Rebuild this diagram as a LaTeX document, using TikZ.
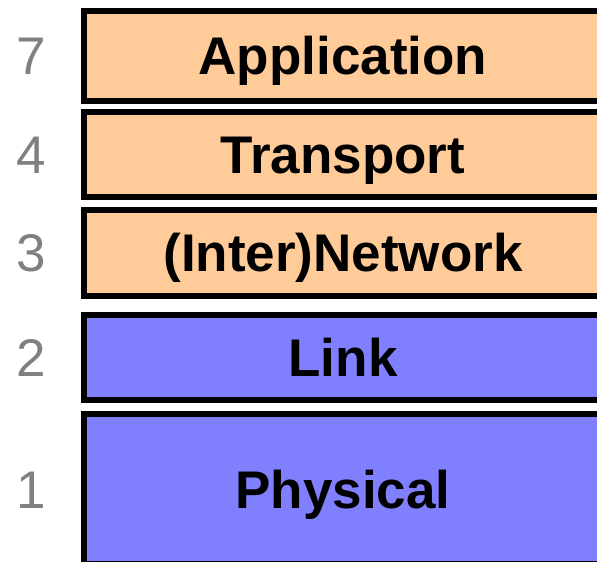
\documentclass[tikz,border=0pt]{standalone}
\usepackage{fontspec}
\setmainfont{Liberation Sans}
\begin{document}
\begin{tikzpicture}[x=1pt,y=-1pt,
  layerbox/.style={draw=black, line width=6pt, rectangle, minimum width=518pt, inner sep=0pt,
    font=\fontsize{53}{60}\selectfont\bfseries, text height=38pt, text depth=0pt, anchor=center},
  upper/.style={layerbox, fill={rgb,255:red,255;green,204;blue,153}},
  lower/.style={layerbox, fill={rgb,255:red,128;green,128;blue,255}},
  num/.style={font=\fontsize{53}{60}\selectfont, text={rgb,255:red,128;green,128;blue,128},
    inner sep=0pt, text height=38pt, text depth=0pt, anchor=center}]
\useasboundingbox (0,0) rectangle (597,562);
\clip (0,0) rectangle (597,562);
\node[upper, minimum height=89.5pt] (app) at (343,55.75) {Application};
\node[upper, minimum height=85pt] (tra) at (343,154.5) {Transport};
\node[upper, minimum height=85.5pt] (net) at (343,252.75) {(Inter)Network};
\node[lower, minimum height=84.7pt] (lnk) at (343,357.7) {Link};
\node[lower, minimum height=150pt] (phy) at (343,489) {Physical};
\node[num] (n7) at (31,55.75) {7};
\node[num] (n4) at (31,154.5) {4};
\node[num] (n3) at (31,252.75) {3};
\node[num] (n2) at (31,357.7) {2};
\node[num] (n1) at (31,489) {1};
\end{tikzpicture}
\end{document}
